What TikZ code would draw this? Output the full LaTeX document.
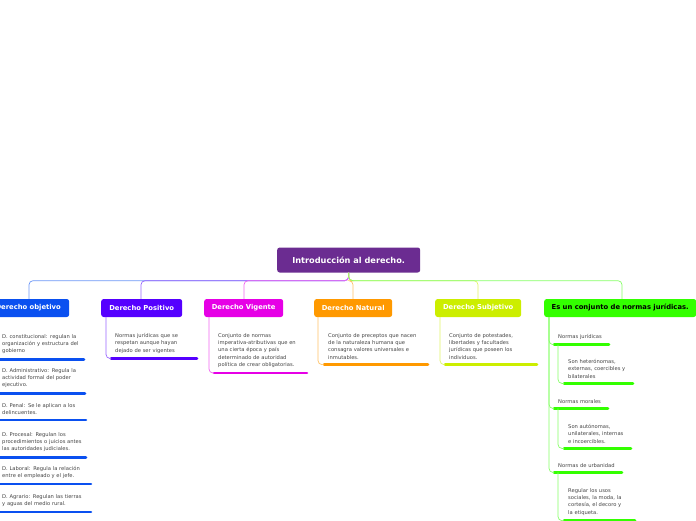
\documentclass[tikz,border=0pt]{standalone}
\usepackage{fontspec}
\usepackage[none]{hyphenat}
\setmainfont{DejaVu Sans}
\definecolor{cRoot}{HTML}{6B2C91}
\definecolor{cObj}{HTML}{0A50F0}
\definecolor{cPos}{HTML}{5500FF}
\definecolor{cVig}{HTML}{E600E6}
\definecolor{cNat}{HTML}{FF9900}
\definecolor{cSub}{HTML}{CCEE00}
\definecolor{cGre}{HTML}{33FF00}
\definecolor{cTxt}{HTML}{444444}
\tikzset{
  box/.style={rounded corners=2.5pt,fill=#1,text=white,font=\fontsize{6.8}{7.5}\selectfont\bfseries,minimum height=18pt,inner xsep=6pt,anchor=west},
  itm/.style={anchor=north west,inner sep=0pt,align=left,text=cTxt,font=\fontsize{5.2}{7.4}\selectfont},
  bar/.style={draw=#1,line width=2.6pt,line cap=round},
  conn/.style={draw=#1!60,line width=0.7pt,rounded corners=4pt},
}
\newcommand{\mitem}[7]{% name,x,y,textwidth,color,barlen,text
  \node[itm,text width=#4pt] (#1) at (#2,#3) {#7};
  \coordinate (#1b) at ([xshift=-4pt,yshift=-5pt]#1.south west);
  \draw[bar=#5] (#1b) -- ++(#6,0);
}
\begin{document}
\begin{tikzpicture}[x=1pt,y=-1pt]
\useasboundingbox (0,0) rectangle (696,520);
\node[box=cRoot,minimum height=25pt,minimum width=143pt,font=\fontsize{8.2}{9}\selectfont\bfseries] (root) at (277,260) {Introducción al derecho.};
\node[box=cObj,minimum width=82pt] (obj) at (-13,308) {Derecho objetivo};
\node[box=cPos,minimum width=81pt] (pos) at (101,308) {Derecho Positivo};
\node[box=cVig,minimum width=79pt] (vig) at (204,308) {Derecho Vigente};
\node[box=cNat,minimum width=78pt] (nat) at (314,308) {Derecho Natural};
\node[box=cSub,minimum width=86pt] (sub) at (435,308) {Derecho Subjetivo};
\node[box=cGre,text=black,minimum width=152pt,inner xsep=4pt] (gre) at (544,308) {Es un conjunto de normas jurídicas.};
% branch connectors
\foreach \n/\c/\x in {obj/cObj/29,pos/cPos/141,vig/cVig/244,nat/cNat/353,sub/cSub/478,gre/cGre/622}{
  \draw[conn=\c] (root.south) -- ++(0,8) -| (\n.north -| \x,0);
}
% Derecho objetivo items
\mitem{o1}{2}{334}{96}{cObj}{86}{D. constitucional: regulan la\\organización y estructura del\\gobierno}
\mitem{o2}{2}{368}{96}{cObj}{87}{D. Administrativo: Regula la\\actividad formal del poder\\ejecutivo.}
\mitem{o3}{2}{403}{96}{cObj}{88}{D. Penal: Se le aplican a los\\delincuentes.}
\mitem{o4}{2}{432}{96}{cObj}{88}{D. Procesal: Regulan los\\procedimientos o juicios antes\\las autoridades judiciales.}
\mitem{o5}{2}{466}{96}{cObj}{93}{D. Laboral: Regula la relación\\entre el empleado y el jefe.}
\mitem{o6}{2}{494}{96}{cObj}{93}{D. Agrario: Regulan las tierras\\y aguas del medio rural.}
% Positivo
\mitem{p1}{115}{333}{90}{cPos}{86}{Normas jurídicas que se\\respetan aunque hayan\\dejado de ser vigentes}
\draw[conn=cPos] (pos.south west -| 106,0) |- (p1b);
% Vigente
\mitem{v1}{218}{333}{100}{cVig}{93}{Conjunto de normas\\imperativa-atributivas que en\\una cierta época y país\\determinado de autoridad\\política de crear obligatorias.}
\draw[conn=cVig] (vig.south west -| 209,0) |- (v1b);
% Natural
\mitem{n1}{328}{333}{104}{cNat}{104}{Conjunto de preceptos que nacen\\de la naturaleza humana que\\consagra valores universales e\\inmutables.}
\draw[conn=cNat] (nat.south west -| 318,0) |- (n1b);
% Subjetivo
\mitem{s1}{449}{333}{90}{cSub}{92}{Conjunto de potestades,\\libertades y facultades\\jurídicas que poseen los\\individuos.}
\draw[conn=cSub] (sub.south west -| 440,0) |- (s1b);
% Green branch
\mitem{g1}{558}{334}{60}{cGre}{55}{Normas jurídicas}
\mitem{g1s}{568}{359}{72}{cGre}{69}{Son heterónomas,\\externas, coercibles y\\bilaterales}
\mitem{g2}{558}{399}{60}{cGre}{54}{Normas morales}
\mitem{g2s}{568}{424}{72}{cGre}{67}{Son autónomas,\\unilaterales, internas\\e incoercibles.}
\mitem{g3}{558}{463}{70}{cGre}{68}{Normas de urbanidad}
\mitem{g3s}{568}{488}{72}{cGre}{71}{Regular los usos\\sociales, la moda, la\\cortesía, el decoro y\\la etiqueta.}
\draw[conn=cGre] (gre.south west -| 549,0) |- (g1b);
\draw[conn=cGre] (gre.south west -| 549,0) |- (g2b);
\draw[conn=cGre] (gre.south west -| 549,0) |- (g3b);
\draw[conn=cGre] (g1b -| 558,0) |- (g1sb);
\draw[conn=cGre] (g2b -| 558,0) |- (g2sb);
\draw[conn=cGre] (g3b -| 558,0) |- (g3sb);
\end{tikzpicture}
\end{document}
